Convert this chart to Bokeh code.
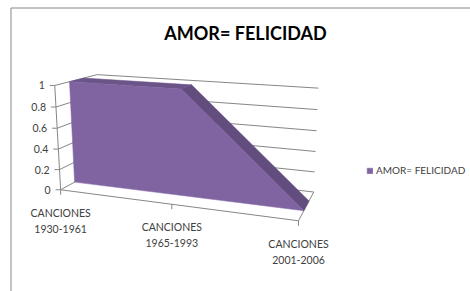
import numpy as np
from bokeh.plotting import figure
from bokeh.models import Range1d, Legend, LegendItem
from bokeh.core.properties import value
from bokeh.embed import file_html
from bokeh.resources import INLINE

# ---------------- data ----------------
categories = ["CANCIONES 1930-1961", "CANCIONES 1965-1993", "CANCIONES 2001-2006"]
values = [1, 1, 0]
series_name = "AMOR= FELICIDAD"
title_text = "AMOR= FELICIDAD"
y_ticks = [0, 0.2, 0.4, 0.6, 0.8, 1]
y_tick_labels = ["0", "0.2", "0.4", "0.6", "0.8", "1"]

# ---------------- layout: 3D perspective frame ----------------
# world (category index, value, depth) -> screen pixel anchors of the plot box
ANCHORS = [
    ((0, 0, 0), (60, 189)), ((1, 0, 0), (172, 204)), ((2, 0, 0), (298, 220)),
    ((2, 0, 1), (313, 192)), ((0, 1, 1), (97, 74)), ((2, 1, 1), (318, 88)),
    ((0, 1, 0), (54, 86)), ((2, 0.2, 1), (314, 172)), ((2, 0.4, 1), (315, 151)),
    ((2, 0.6, 1), (316, 130)), ((2, 0.8, 1), (317, 108)), ((0, 0.5, 0), (57, 137.5)),
]
rows = []
for (X, Y, Z), (u, v) in ANCHORS:
    rows.append([X, Y, Z, 1, 0, 0, 0, 0, -u * X, -u * Y, -u * Z, -u])
    rows.append([0, 0, 0, 0, X, Y, Z, 1, -v * X, -v * Y, -v * Z, -v])
_, _, vt = np.linalg.svd(np.array(rows, dtype=float))
P = vt[-1].reshape(3, 4)


def proj(x, y, z):
    w = P @ np.array([x, y, z, 1.0])
    return w[0] / w[2], w[1] / w[2]


def proj_many(pts):
    xs, ys = zip(*[proj(*p) for p in pts])
    return list(xs), list(ys)


Z_FRONT, Z_BACK = 0.32, 0.66
GRID = "#868686"
FONT = "Lato"
TXT = "#404040"

W, H = 470, 291
p = figure(width=W, height=H, x_range=Range1d(0, W), y_range=Range1d(H, 0),
           toolbar_location=None, output_backend="svg", min_border=0,
           x_axis_location=None, y_axis_location=None, outline_line_color=None,
           background_fill_color="white", border_fill_color="white")
p.grid.visible = False

# chart area border
p.line([10.5, 10.5, W], [H, 7.5, 7.5], line_color=GRID, line_width=1)

# title
p.text(x=[245], y=[32], text=[title_text], text_font=value(FONT), text_font_style="bold",
       text_font_size="18px", text_align="center", text_baseline="middle", text_color="black")

# walls: back wall gridlines and side wall gridlines
n = len(categories) - 1
for t in y_ticks:
    xs, ys = proj_many([(0, t, 0), (0, t, 1), (n, t, 1)])
    p.line(xs, ys, line_color=GRID, line_width=1)
# floor right edge
xs, ys = proj_many([(n, 0, 0), (n, 0, 1)])
p.line(xs, ys, line_color=GRID, line_width=1)

# series: top faces then front face
idx = list(range(len(values)))
for i in range(len(values) - 1):
    xs, ys = proj_many([(idx[i], values[i], Z_FRONT), (idx[i + 1], values[i + 1], Z_FRONT),
                        (idx[i + 1], values[i + 1], Z_BACK), (idx[i], values[i], Z_BACK)])
    col = "#6A5488" if values[i] == values[i + 1] else "#634D7F"
    p.patch(xs, ys, fill_color=col, line_color=col, line_width=0.5)

front_pts = [(idx[0], 0, Z_FRONT)] + [(i, v, Z_FRONT) for i, v in zip(idx, values)] + [(idx[-1], 0, Z_FRONT)]
xs, ys = proj_many(front_pts)
front = p.patch(xs, ys, fill_color="#8064A2", line_color="#8064A2", line_width=0.5)

# axes lines (front)
xs, ys = proj_many([(0, 0, 0), (n, 0, 0)])
p.line(xs, ys, line_color=GRID, line_width=1)
xs, ys = proj_many([(0, 0, 0), (0, 1, 0)])
p.line(xs, ys, line_color=GRID, line_width=1)

# y ticks + labels
for t, lab in zip(y_ticks, y_tick_labels):
    x0, y0 = proj(0, t, 0)
    p.line([x0 - 5, x0], [y0, y0], line_color=GRID, line_width=1)
    p.text(x=[x0 - 10], y=[y0], text=[lab], text_font=value(FONT), text_font_size="10.5px",
           text_align="right", text_baseline="middle", text_color=TXT)

# x ticks + labels
for i, cat in enumerate(categories):
    x0, y0 = proj(i, 0, 0)
    p.line([x0, x0], [y0, y0 + 5], line_color=GRID, line_width=1)
    first, second = cat.split(" ", 1)
    p.text(x=[x0], y=[y0 + 23], text=[first], text_font=value(FONT), text_font_size="10.5px",
           text_align="center", text_baseline="middle", text_color=TXT)
    p.text(x=[x0], y=[y0 + 39], text=[second], text_font=value(FONT), text_font_size="10.5px",
           text_align="center", text_baseline="middle", text_color=TXT)

legend = Legend(items=[LegendItem(label=series_name, renderers=[front])], location=(366, 115),
                glyph_width=7, glyph_height=7, label_height=10, label_standoff=3,
                label_text_font=FONT, label_text_font_size="10px", label_text_color=TXT,
                padding=0, margin=0, spacing=0, border_line_color=None, background_fill_alpha=0)
p.add_layout(legend, "center")

open("out.html", "w").write(file_html(p, INLINE))
